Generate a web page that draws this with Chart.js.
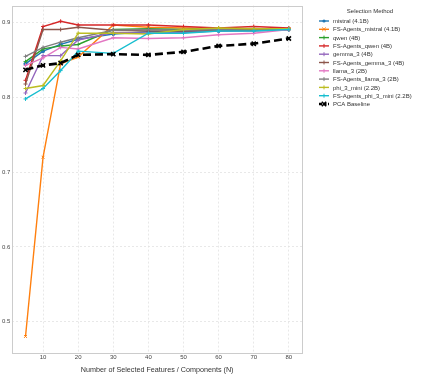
<!DOCTYPE html>
<html>
<head>
<meta charset="utf-8">
<script src="https://cdn.jsdelivr.net/npm/chart.js@4.4.1/dist/chart.umd.min.js"></script>
<style>
html,body{margin:0;padding:0;background:#fff;}
#wrap{width:424px;height:377px;}
</style>
</head>
<body>
<div id="wrap"><canvas id="c" width="424" height="377"></canvas></div>
<script>
const featureCounts = [5, 10, 15, 20, 30, 40, 50, 60, 70, 80];
const xTicks = [10, 20, 30, 40, 50, 60, 70, 80];
const yTicks = [0.5, 0.6, 0.7, 0.8, 0.9];

const mistral        = [0.845, 0.862, 0.871, 0.878, 0.885, 0.888, 0.888, 0.889, 0.890, 0.891];
const fsMistral      = [0.480, 0.720, 0.845, 0.854, 0.897, 0.894, 0.893, 0.892, 0.891, 0.892];
const qwen           = [0.848, 0.865, 0.869, 0.871, 0.891, 0.892, 0.891, 0.892, 0.892, 0.892];
const fsQwen         = [0.823, 0.895, 0.902, 0.897, 0.897, 0.897, 0.895, 0.893, 0.895, 0.893];
const gemma          = [0.806, 0.856, 0.856, 0.877, 0.887, 0.886, 0.887, 0.889, 0.889, 0.891];
const fsGemma        = [0.818, 0.891, 0.891, 0.894, 0.890, 0.889, 0.889, 0.890, 0.890, 0.891];
const llama          = [0.843, 0.853, 0.867, 0.865, 0.880, 0.879, 0.880, 0.884, 0.886, 0.891];
const fsLlama        = [0.855, 0.867, 0.874, 0.880, 0.890, 0.891, 0.890, 0.891, 0.892, 0.892];
const phi            = [0.812, 0.816, 0.849, 0.886, 0.886, 0.885, 0.891, 0.893, 0.892, 0.892];
const fsPhi          = [0.798, 0.812, 0.836, 0.862, 0.859, 0.886, 0.886, 0.889, 0.889, 0.891];
const pcaBaseline    = [0.837, 0.843, 0.846, 0.857, 0.858, 0.857, 0.861, 0.869, 0.872, 0.879];

const seriesNames = ["mistral (4.1B)", "FS-Agents_mistral (4.1B)", "qwen (4B)", "FS-Agents_qwen (4B)",
  "gemma_3 (4B)", "FS-Agents_gemma_3 (4B)", "llama_3 (2B)", "FS-Agents_llama_3 (2B)",
  "phi_3_mini (2.2B)", "FS-Agents_phi_3_mini (2.2B)", "PCA Baseline"];
const seriesValues = [mistral, fsMistral, qwen, fsQwen, gemma, fsGemma, llama, fsLlama, phi, fsPhi, pcaBaseline];
const colors = ["#1f77b4", "#ff7f0e", "#2ca02c", "#d62728", "#9467bd", "#8c564b", "#e377c2", "#7f7f7f", "#bcbd22", "#17becf", "#000000"];
const markers = ["circle", "crossRot", "cross", "cross", "cross", "cross", "cross", "cross", "cross", "cross", "crossRot"];

const FONT = "'Liberation Sans', Arial, sans-serif";

const datasets = seriesValues.map((vals, i) => {
  const isPCA = i === 10;
  return {
    label: seriesNames[i],
    data: featureCounts.map((x, k) => ({x: x, y: vals[k]})),
    borderColor: colors[i],
    backgroundColor: colors[i],
    borderWidth: isPCA ? 2.6 : 1.4,
    borderDash: isPCA ? [8, 4] : [],
    pointStyle: markers[i],
    pointRadius: isPCA ? 3 : (i === 0 ? 1.6 : 2),
    pointBorderWidth: isPCA ? 1.6 : 1,
    pointBorderColor: colors[i],
    pointBackgroundColor: colors[i],
    fill: false,
    tension: 0,
    order: isPCA ? 0 : 11 - i
  };
});

const frameAndLegend = {
  id: 'frameAndLegend',
  afterDraw(chart) {
    const ctx = chart.ctx;
    const a = chart.chartArea;
    ctx.save();
    ctx.strokeStyle = '#cccccc';
    ctx.lineWidth = 1;
    ctx.strokeRect(Math.round(a.left) + 0.5, Math.round(a.top) + 0.5, Math.round(a.right - a.left), Math.round(a.bottom - a.top));
    // legend
    ctx.fillStyle = '#333';
    ctx.font = "6px " + FONT;
    ctx.textAlign = 'center';
    ctx.textBaseline = 'middle';
    ctx.fillText('Selection Method', 370, 11);
    ctx.textAlign = 'left';
    const x0 = 319, x1 = 329, tx = 333, y0 = 21, dy = 8.3;
    seriesNames.forEach((name, i) => {
      const y = y0 + i * dy;
      const isPCA = i === 10;
      ctx.strokeStyle = colors[i];
      ctx.lineWidth = isPCA ? 2.4 : 1.4;
      ctx.setLineDash(isPCA ? [3, 1.5] : []);
      ctx.beginPath();
      ctx.moveTo(x0, y);
      ctx.lineTo(x1, y);
      ctx.stroke();
      ctx.setLineDash([]);
      ctx.fillStyle = colors[i];
      const cx = (x0 + x1) / 2;
      if (markers[i] === 'circle') {
        ctx.beginPath(); ctx.arc(cx, y, 1.6, 0, Math.PI * 2); ctx.fill();
      } else if (markers[i] === 'crossRot') {
        const r = isPCA ? 2.2 : 1.8;
        ctx.lineWidth = isPCA ? 1.5 : 1;
        ctx.beginPath();
        ctx.moveTo(cx - r, y - r); ctx.lineTo(cx + r, y + r);
        ctx.moveTo(cx - r, y + r); ctx.lineTo(cx + r, y - r);
        ctx.stroke();
      } else {
        ctx.lineWidth = 1;
        ctx.beginPath();
        ctx.moveTo(cx, y - 2); ctx.lineTo(cx, y + 2);
        ctx.stroke();
      }
      ctx.fillStyle = '#333';
      ctx.fillText(name, tx, y + 0.5);
    });
    ctx.restore();
  }
};

new Chart(document.getElementById('c'), {
  type: 'line',
  data: { datasets: datasets },
  options: {
    responsive: false,
    animation: false,
    devicePixelRatio: 1,
    layout: { padding: { left: 0, top: 1, right: 122, bottom: 3 } },
    plugins: {
      legend: { display: false },
      tooltip: { enabled: false }
    },
    scales: {
      x: {
        type: 'linear',
        min: 1.25,
        max: 83.75,
        afterBuildTicks: (s) => { s.ticks = xTicks.map(v => ({value: v})); },
        ticks: { font: { size: 6, family: FONT }, color: '#444', padding: 2, maxRotation: 0 },
        grid: { color: '#e3e3e3', lineWidth: 0.8, drawTicks: false, tickLength: 0 },
        border: { display: false, dash: [2, 2] },
        title: { display: true, text: 'Number of Selected Features / Components (N)', font: { size: 7.2, family: FONT }, color: '#333', padding: { top: 2, bottom: 0 } }
      },
      y: {
        type: 'linear',
        min: 0.459,
        max: 0.923,
        afterBuildTicks: (s) => { s.ticks = yTicks.map(v => ({value: v})); },
        ticks: { font: { size: 6, family: FONT }, color: '#444', padding: 2, callback: (v) => String(+v.toFixed(1)) },
        grid: { color: '#e3e3e3', lineWidth: 0.8, drawTicks: false, tickLength: 0 },
        border: { display: false, dash: [2, 2] }
      }
    }
  },
  plugins: [frameAndLegend]
});
</script>
</body>
</html>
